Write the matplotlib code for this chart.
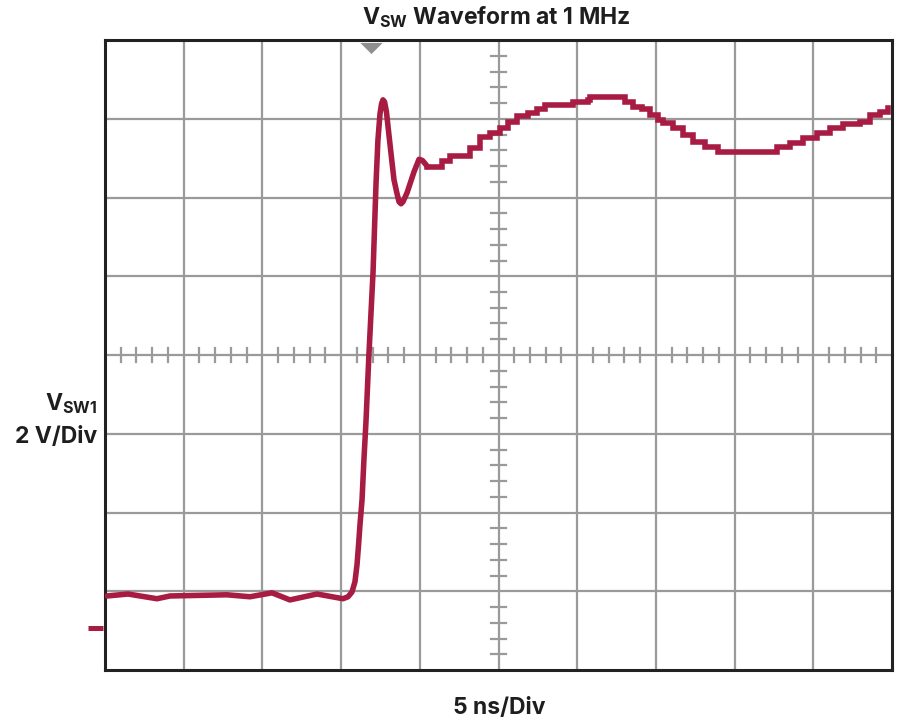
import matplotlib
matplotlib.use("Agg")
import matplotlib.pyplot as plt
import matplotlib.transforms as mtransforms

plt.rcParams['font.family'] = ['Inter', 'DejaVu Sans']
plt.rcParams['mathtext.fontset'] = 'custom'
plt.rcParams['mathtext.rm'] = 'Inter:bold'
plt.rcParams['mathtext.it'] = 'Inter:bold'
plt.rcParams['mathtext.bf'] = 'Inter:bold'

# scope settings: 5 ns/div, 2 V/div, 10 x 8 divisions
ns_per_div = 5
v_per_div = 2
v_bottom = -1.07  # ground marker sits a bit above the bottom edge

# smooth part of the trace: baseline, edge and ringing
t_edge = [0.13, 1.46, 3.30, 4.13, 7.75, 9.21, 10.61, 11.75, 13.47, 15.12,
          15.44, 15.69, 15.88, 16.01, 16.11, 16.20, 16.33, 16.45, 16.58, 16.77,
          17.03, 17.22, 17.34, 17.47, 17.57, 17.66, 17.76, 17.88, 18.04, 18.21,
          18.36, 18.54, 18.68, 18.81, 18.93, 19.19, 19.63, 19.95, 20.17, 20.50]
v_edge = [0.81, 0.86, 0.74, 0.81, 0.84, 0.79, 0.89, 0.71, 0.86, 0.74,
          0.79, 0.91, 1.17, 1.60, 2.11, 2.62, 3.25, 4.27, 5.23, 6.96,
          9.04, 11.30, 12.39, 13.05, 13.31, 13.41, 13.36, 13.11, 12.52, 11.91,
          11.38, 11.05, 10.82, 10.77, 10.82, 11.05, 11.58, 11.90, 11.87, 11.71]

# quantized part of the trace after the ringing
t_settle = [20.46, 21.09, 21.41, 21.92, 22.68, 23.19, 23.82, 24.46, 25.10, 25.60,
            26.18, 26.87, 27.45, 27.95, 29.54, 29.73, 30.69, 30.81, 32.72, 33.04,
            33.55, 34.12, 34.63, 35.13, 35.45, 36.09, 36.72, 37.36, 38.12, 38.95,
            42.25, 42.69, 43.52, 44.35, 45.23, 46.06, 46.89, 47.97, 48.60, 49.24,
            49.75]
v_settle = [11.71, 11.71, 11.86, 11.99, 11.99, 12.19, 12.47, 12.57, 12.70, 12.85,
            13.00, 13.08, 13.18, 13.28, 13.28, 13.36, 13.41, 13.49, 13.49, 13.36,
            13.23, 13.18, 13.03, 12.90, 12.83, 12.70, 12.52, 12.34, 12.22, 12.09,
            12.09, 12.22, 12.32, 12.44, 12.57, 12.70, 12.80, 12.85, 13.03, 13.11,
            13.21]

trigger_t = 16.9

trace_color = '#A81C44'
grid_color = '#9a9a9a'
text_color = '#1e1e1e'

fig = plt.figure(figsize=(9, 7.23), dpi=100)
ax = fig.add_axes([105 / 900, 53 / 723, 787 / 900, 630 / 723])

t_max = 10 * ns_per_div
v_top = v_bottom + 8 * v_per_div
ax.set_xlim(0, t_max)
ax.set_ylim(v_bottom, v_top)

# grid
for i in range(1, 10):
    ax.axvline(i * ns_per_div, color=grid_color, lw=1.6, zorder=1)
for i in range(1, 8):
    ax.axhline(v_bottom + i * v_per_div, color=grid_color, lw=1.6, zorder=1)

# minor ticks on the centre lines
t_mid = 5 * ns_per_div
v_mid = v_bottom + 4 * v_per_div
tick_w = 0.09 * ns_per_div
tick_h = 0.09 * v_per_div
for i in range(1, 50):
    if i % 5 == 0:
        continue
    t = i * ns_per_div / 5
    ax.plot([t, t], [v_mid - tick_h, v_mid + tick_h], color=grid_color, lw=1.6, zorder=1)
for i in range(1, 40):
    if i % 5 == 0:
        continue
    v = v_bottom + i * v_per_div / 5
    ax.plot([t_mid - tick_w, t_mid + tick_w], [v, v], color=grid_color, lw=1.6, zorder=1)

# waveform
ax.plot(t_edge, v_edge, color=trace_color, lw=4.0, solid_capstyle='round',
        solid_joinstyle='round', zorder=3)
ax.plot(t_settle, v_settle, color=trace_color, lw=4.0, drawstyle='steps-post',
        solid_joinstyle='miter', zorder=3)

# trigger marker (flat downward triangle) and ground marker
tri = [(-1, 0.5), (1, 0.5), (0, -0.5), (-1, 0.5)]
ax.plot([trigger_t], [v_top - 0.2], marker=tri, ms=16, color='#8f8f8f',
        mec='none', clip_on=False, zorder=4)
trans = mtransforms.blended_transform_factory(ax.transAxes, ax.transData)
ax.plot([-0.021, -0.003], [0, 0], color=trace_color, lw=3.6, transform=trans,
        clip_on=False, solid_capstyle='butt')

ax.set_xticks([])
ax.set_yticks([])
for side in ax.spines.values():
    side.set_color('#222222')
    side.set_linewidth(2.2)

fs = 16.5
fig.text(496 / 900, 1 - 17 / 723, r'$V_{SW}$ Waveform at 1 MHz', ha='center', va='center',
         fontsize=fs, fontweight='bold', color=text_color)
fig.text(97 / 900, 1 - 404 / 723, r'$V_{SW1}$', ha='right', va='center',
         fontsize=fs, fontweight='bold', color=text_color)
fig.text(97 / 900, 1 - 437 / 723, '2 V/Div', ha='right', va='center',
         fontsize=fs, fontweight='bold', color=text_color)
fig.text(499 / 900, 1 - 708 / 723, '5 ns/Div', ha='center', va='center',
         fontsize=fs, fontweight='bold', color=text_color)

fig.savefig('out.png', dpi=100)
